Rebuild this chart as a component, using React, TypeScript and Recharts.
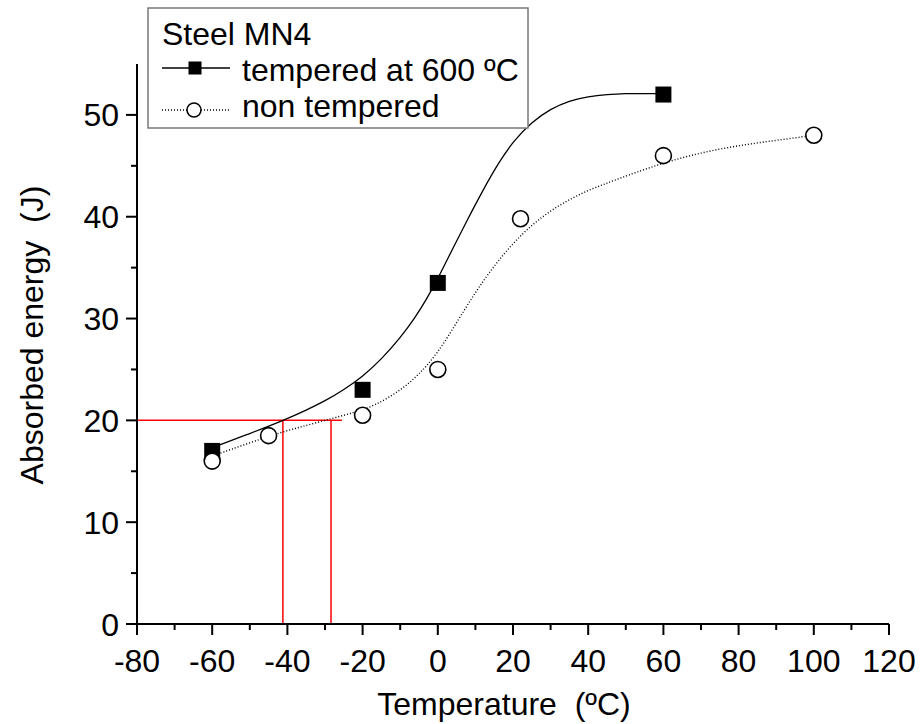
import { ComposedChart, Line, Scatter, XAxis, YAxis } from "recharts";

// measured points
const temperedX = [-60, -20, 0, 60];
const temperedY = [17, 23, 33.5, 52];
const nonTemperedX = [-60, -45, -20, 0, 22, 60, 100];
const nonTemperedY = [16, 18.5, 20.5, 25, 39.8, 46, 48];

// fitted curves
const temperedFitX = [-60, -50, -41, -35, -30, -25, -20, -15, -10, -6, -3, 0, 4, 8, 12, 16, 20, 25, 30, 35, 40, 45, 50, 55, 60];
const temperedFitY = [17.3, 18.7, 20.0, 21.0, 21.9, 23.0, 24.3, 26.0, 28.1, 30.1, 31.9, 33.9, 36.9, 39.8, 42.6, 45.2, 47.4, 49.3, 50.6, 51.4, 51.8, 52.0, 52.1, 52.1, 52.1];
const nonTemperedFitX = [-60, -50, -42, -35, -28, -22, -17, -10, -5, 0, 5, 10, 15, 20, 25, 30, 35, 40, 45, 50, 60, 70, 80, 90, 100];
const nonTemperedFitY = [16.5, 17.8, 18.8, 19.5, 20.2, 20.8, 21.4, 22.9, 24.5, 26.6, 29.6, 32.6, 35.2, 37.4, 39.2, 40.6, 41.7, 42.6, 43.3, 44.0, 45.3, 46.3, 47.0, 47.5, 48.0];

// red guide lines at 20 J
const guideHX = [-80, -25.5];
const guideHY = [20, 20];
const guideV1X = [-41.2, -41.2];
const guideV2X = [-28.4, -28.4];
const guideVY = [0, 20];

const xTicks = [-80, -70, -60, -50, -40, -30, -20, -10, 0, 10, 20, 30, 40, 50, 60, 70, 80, 90, 100, 110, 120];
const yTicks = [0, 5, 10, 15, 20, 25, 30, 35, 40, 45, 50];

const FONT = "Arial, 'Liberation Sans', sans-serif";

const pts = (xs: number[], ys: number[]) => xs.map((x, i) => ({ x, y: ys[i] }));

function XTick({ x, y, payload }: any) {
  const major = payload.value % 20 === 0;
  return (
    <g>
      <line x1={x} x2={x} y1={y} y2={y + (major ? 11 : 6)} stroke="#000" strokeWidth={2} />
      {major && (
        <text x={x} y={y + 48} textAnchor="middle" fontSize={32} fontFamily={FONT} fill="#000">
          {payload.value}
        </text>
      )}
    </g>
  );
}

function YTick({ x, y, payload }: any) {
  const major = payload.value % 10 === 0;
  return (
    <g>
      <line x1={x} x2={x - (major ? 11 : 6)} y1={y} y2={y} stroke="#000" strokeWidth={2} />
      {major && (
        <text x={x - 18} y={y + 11.5} textAnchor="end" fontSize={32} fontFamily={FONT} fill="#000">
          {payload.value}
        </text>
      )}
    </g>
  );
}

const Square = ({ cx, cy }: any) => <rect x={cx - 8} y={cy - 8} width={16} height={16} fill="#000" />;
const Ring = ({ cx, cy }: any) => <circle cx={cx} cy={cy} r={8} fill="#fff" stroke="#000" strokeWidth={1.6} />;

export default function App() {
  return (
    <div style={{ position: "absolute", left: 0, top: 0, width: 921, height: 724, background: "#fff" }}>
      <ComposedChart width={921} height={724} margin={{ top: 64, right: 32, bottom: 0, left: 0 }}>
        <XAxis
          type="number"
          dataKey="x"
          domain={[-80, 120]}
          ticks={xTicks}
          interval={0}
          height={100}
          tickSize={0}
          tickMargin={0}
          tickLine={false}
          axisLine={{ stroke: "#000", strokeWidth: 2 }}
          tick={<XTick />}
        />
        <YAxis
          type="number"
          dataKey="y"
          domain={[0, 55]}
          ticks={yTicks}
          interval={0}
          width={137}
          tickSize={0}
          tickMargin={0}
          tickLine={false}
          axisLine={{ stroke: "#000", strokeWidth: 2 }}
          tick={<YTick />}
        />
        <Line data={pts(guideHX, guideHY)} dataKey="y" stroke="#ff0000" strokeWidth={1.5} dot={false} isAnimationActive={false} />
        <Line data={pts(guideV1X, guideVY)} dataKey="y" stroke="#ff0000" strokeWidth={1.5} dot={false} isAnimationActive={false} />
        <Line data={pts(guideV2X, guideVY)} dataKey="y" stroke="#ff0000" strokeWidth={1.5} dot={false} isAnimationActive={false} />
        <Line data={pts(temperedFitX, temperedFitY)} dataKey="y" type="basis" stroke="#000" strokeWidth={1.3} dot={false} isAnimationActive={false} />
        <Line data={pts(nonTemperedFitX, nonTemperedFitY)} dataKey="y" type="basis" stroke="#000" strokeWidth={1.4} strokeDasharray="1 2" dot={false} isAnimationActive={false} />
        <Scatter data={pts(temperedX, temperedY)} dataKey="y" shape={<Square />} isAnimationActive={false} />
        <Scatter data={pts(nonTemperedX, nonTemperedY)} dataKey="y" shape={<Ring />} isAnimationActive={false} />
      </ComposedChart>
      <svg width={921} height={724} style={{ position: "absolute", left: 0, top: 0, pointerEvents: "none" }}>
        <text x={504} y={715} textAnchor="middle" fontSize={32} fontFamily={FONT} style={{ whiteSpace: "pre" }}>
          Temperature  (ºC)
        </text>
        <text
          x={43}
          y={335}
          textAnchor="middle"
          fontSize={32}
          fontFamily={FONT}
          transform="rotate(-90 43 335)"
          style={{ whiteSpace: "pre" }}
        >
          Absorbed energy  (J)
        </text>
        <rect x={148} y={8} width={380} height={120} fill="#fff" stroke="#777" strokeWidth={1.5} />
        <text x={162} y={45} fontSize={32} fontFamily={FONT}>Steel MN4</text>
        <line x1={162} x2={230} y1={68} y2={68} stroke="#000" strokeWidth={1.3} />
        <rect x={188.5} y={61.5} width={13} height={13} fill="#000" />
        <text x={242} y={81} fontSize={32} fontFamily={FONT}>tempered at 600 ºC</text>
        <line x1={162} x2={230} y1={110} y2={110} stroke="#000" strokeWidth={1.3} strokeDasharray="1 2" />
        <circle cx={194} cy={110} r={7} fill="#fff" stroke="#000" strokeWidth={1.5} />
        <text x={242} y={117} fontSize={32} fontFamily={FONT}>non tempered</text>
      </svg>
    </div>
  );
}
